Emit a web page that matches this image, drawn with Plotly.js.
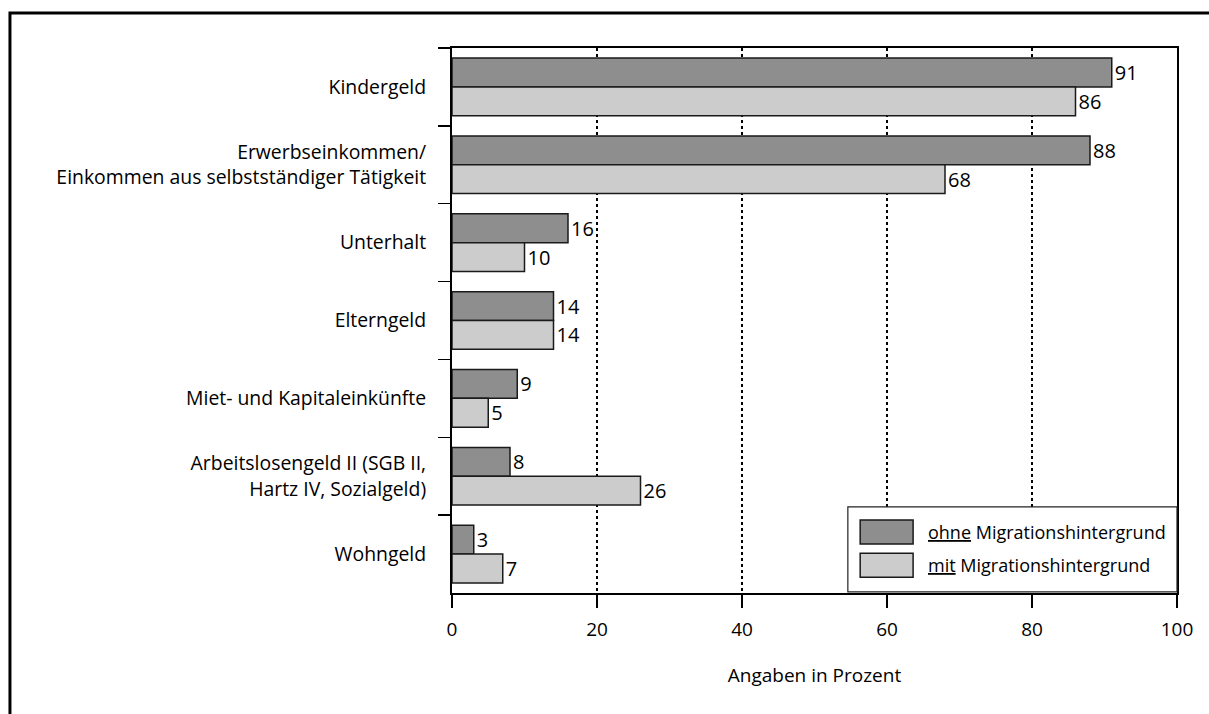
<!DOCTYPE html>
<html>
<head>
<meta charset="utf-8">
<script src="https://cdn.plot.ly/plotly-3.0.1.min.js"></script>
<style>html,body{margin:0;padding:0;background:#fff;}#chart{width:1209px;height:714px;}</style>
</head>
<body>
<div id="chart"></div>
<script>
const categories = [
  "Kindergeld",
  "Erwerbseinkommen/<br>Einkommen aus selbstständiger Tätigkeit",
  "Unterhalt",
  "Elterngeld",
  "Miet- und Kapitaleinkünfte",
  "Arbeitslosengeld II (SGB II,<br>Hartz IV, Sozialgeld)",
  "Wohngeld"
];
const ohneValues = [91, 88, 16, 14, 9, 8, 3];
const mitValues = [86, 68, 10, 14, 5, 26, 7];
const seriesNames = ["ohne Migrationshintergrund", "mit Migrationshintergrund"];
const xTicks = [0, 20, 40, 60, 80, 100];

const FONT = "Open Sans, Liberation Sans, sans-serif";
const darkFill = "#8e8e8e";
const lightFill = "#cccccc";
const edge = "#1a1a1a";

const traces = [
  {type: "bar", orientation: "h", name: seriesNames[0], y: categories, x: ohneValues,
   marker: {color: darkFill, line: {color: edge, width: 1.5}},
   text: ohneValues.map(String), textposition: "outside", cliponaxis: false, constraintext: "none",
   textfont: {family: FONT, size: 20, color: "#000"}, showlegend: false, hoverinfo: "x"},
  {type: "bar", orientation: "h", name: seriesNames[1], y: categories, x: mitValues,
   marker: {color: lightFill, line: {color: edge, width: 1.5}},
   text: mitValues.map(String), textposition: "outside", cliponaxis: false, constraintext: "none",
   textfont: {family: FONT, size: 20, color: "#000"}, showlegend: false, hoverinfo: "x"}
];

const layout = {
  width: 1209, height: 714,
  margin: {l: 452, r: 32, t: 48, b: 121},
  paper_bgcolor: "#fff", plot_bgcolor: "#fff",
  font: {family: FONT, size: 16, color: "#000"},
  barmode: "group", bargap: 0.26, bargroupgap: 0,
  showlegend: false,
  xaxis: {
    range: [0, 100], tickvals: xTicks, ticktext: xTicks.map(String),
    showgrid: true, gridcolor: "#000", gridwidth: 1.5, griddash: "dot",
    zeroline: false, showline: true, linecolor: "#000", linewidth: 2, mirror: true,
    ticks: "outside", ticklen: 13, tickwidth: 2, tickcolor: "#000",
    ticklabelstandoff: 5,
    tickfont: {family: FONT, size: 19}, fixedrange: true,
    title: {text: "Angaben in Prozent", font: {family: FONT, size: 19}, standoff: 28}
  },
  yaxis: {
    type: "category", autorange: "reversed", tickson: "boundaries",
    showgrid: false, zeroline: false, showline: true, linecolor: "#000", linewidth: 2, mirror: true,
    ticks: "outside", ticklen: 12, tickwidth: 1.5, tickcolor: "#000",
    ticklabelstandoff: 20,
    tickfont: {family: FONT, size: 19.4}, fixedrange: true
  },
  shapes: [
    {type: "rect", xref: "paper", yref: "paper", x0: -0.6097, x1: 1.2, y0: -0.4, y1: 1.0642,
     line: {color: "#000", width: 3}, fillcolor: "rgba(0,0,0,0)", layer: "below"},
    {type: "rect", xref: "paper", yref: "paper", x0: 0.546, x1: 1.0, y0: 0.002, y1: 0.158,
     line: {color: "#222", width: 1.2}, fillcolor: "#fff", layer: "above"},
    {type: "rect", xref: "paper", yref: "paper", x0: 0.563, x1: 0.636, y0: 0.090, y1: 0.134,
     line: {color: edge, width: 1.5}, fillcolor: darkFill, layer: "above"},
    {type: "rect", xref: "paper", yref: "paper", x0: 0.563, x1: 0.636, y0: 0.029, y1: 0.073,
     line: {color: edge, width: 1.5}, fillcolor: lightFill, layer: "above"}
  ],
  annotations: [
    {xref: "paper", yref: "paper", x: 0.654, y: 0.112, xanchor: "left", yanchor: "middle", showarrow: false,
     text: "<span style='text-decoration:underline'>ohne</span> Migrationshintergrund", font: {family: FONT, size: 18}},
    {xref: "paper", yref: "paper", x: 0.654, y: 0.051, xanchor: "left", yanchor: "middle", showarrow: false,
     text: "<span style='text-decoration:underline'>mit</span> Migrationshintergrund", font: {family: FONT, size: 18}}
  ]
};

Plotly.newPlot("chart", traces, layout, {displayModeBar: false, staticPlot: true});
</script>
</body>
</html>
